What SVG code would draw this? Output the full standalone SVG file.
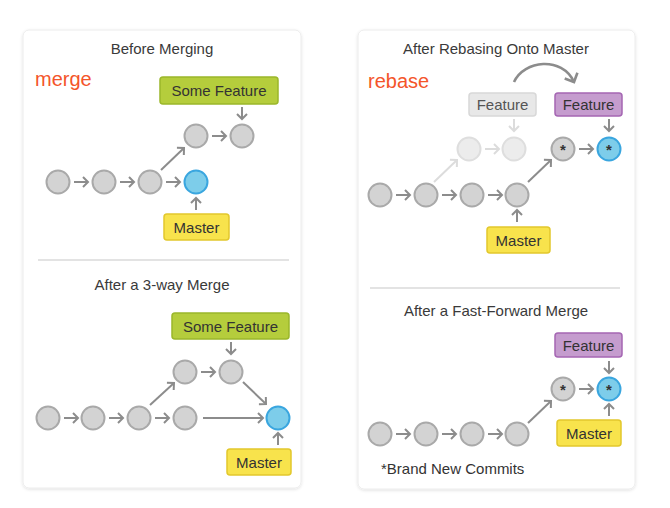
<svg xmlns="http://www.w3.org/2000/svg" width="670" height="508" viewBox="0 0 670 508">
<defs>
<filter id="sh" x="-5%" y="-5%" width="110%" height="110%">
<feDropShadow dx="0" dy="1" stdDeviation="1.5" flood-color="#000" flood-opacity="0.12"/>
</filter>
<marker id="ah" viewBox="-6 -6 8 12" refX="0" refY="0" markerWidth="8" markerHeight="12" markerUnits="userSpaceOnUse" orient="auto" overflow="visible">
<path d="M-5,-5 L0,0 L-5,5" fill="none" stroke="#8c8c8c" stroke-width="2"/>
</marker>
<marker id="ahf" viewBox="-6 -6 8 12" refX="0" refY="0" markerWidth="8" markerHeight="12" markerUnits="userSpaceOnUse" orient="auto" overflow="visible">
<path d="M-5,-5 L0,0 L-5,5" fill="none" stroke="#dcdcdc" stroke-width="2"/>
</marker>
<marker id="ahc" viewBox="-8 -8 10 16" refX="0" refY="0" markerWidth="10" markerHeight="16" markerUnits="userSpaceOnUse" orient="auto" overflow="visible">
<path d="M-7,-7 L0,0 L-7,7" fill="none" stroke="#8c8c8c" stroke-width="2.6"/>
</marker>
</defs>
<style>
text{font-family:"Liberation Sans",Arial,sans-serif;}
.card{fill:#fff;stroke:#ececec;stroke-width:1;}
.sep{stroke:#e3e3e3;stroke-width:2;}
.title{font-size:15px;fill:#3a3a3a;text-anchor:middle;}
.big{font-size:20px;fill:#f4552a;}
.lbl{font-size:15px;fill:#333;text-anchor:middle;}
.lblf{font-size:15px;fill:#555;text-anchor:middle;}
.note{font-size:15px;fill:#333;}
.c{fill:#d3d3d3;stroke:#a9a9a9;stroke-width:2;}
.cb{fill:#7dcdea;stroke:#3aa6df;stroke-width:2;}
.cf{fill:#ececec;stroke:#dedede;stroke-width:2;}
.star{font-size:15px;font-weight:bold;fill:#333;text-anchor:middle;}
.green{fill:#b5cd3c;stroke:#9bb72a;stroke-width:1.5;}
.yellow{fill:#f8e34c;stroke:#e2c82c;stroke-width:1.5;}
.purple{fill:#c59cce;stroke:#a566b3;stroke-width:1.5;}
.gray{fill:#e8e8e8;stroke:#d8d8d8;stroke-width:1.5;}
.a{stroke:#8c8c8c;stroke-width:2;fill:none;marker-end:url(#ah);}
.af{stroke:#dcdcdc;stroke-width:2;fill:none;marker-end:url(#ahf);}
.ac{stroke:#8c8c8c;stroke-width:2.6;fill:none;marker-end:url(#ahc);}
</style>

<g id="cards">
<rect class="card" x="23" y="30" width="278" height="458" rx="6" filter="url(#sh)"/>
<rect class="card" x="358" y="30" width="277" height="459" rx="6" filter="url(#sh)"/>
<line class="sep" x1="38" y1="260" x2="289" y2="260"/>
<line class="sep" x1="370" y1="288" x2="620" y2="288"/>
</g>

<g id="titles">
<text class="title" x="162" y="54">Before Merging</text>
<text class="big" x="35" y="86">merge</text>
<text class="title" x="162" y="290">After a 3-way Merge</text>
<text class="title" x="496" y="54">After Rebasing Onto Master</text>
<text class="big" x="368" y="88">rebase</text>
<text class="title" x="496" y="316">After a Fast-Forward Merge</text>
<text class="note" x="381" y="474">*Brand New Commits</text>
</g>

<g id="connectors">
<!-- before merging -->
<line class="a" x1="74" y1="182" x2="88" y2="182"/>
<line class="a" x1="120" y1="182" x2="134" y2="182"/>
<line class="a" x1="166" y1="182" x2="180" y2="182"/>
<line class="a" x1="212" y1="136" x2="226" y2="136"/>
<line class="a" x1="161" y1="170" x2="184" y2="148"/>
<line class="a" x1="242" y1="107" x2="242" y2="119"/>
<line class="a" x1="196" y1="210" x2="196" y2="198"/>
<!-- 3-way merge -->
<line class="a" x1="64" y1="418" x2="78" y2="418"/>
<line class="a" x1="109" y1="418" x2="123" y2="418"/>
<line class="a" x1="155" y1="418" x2="169" y2="418"/>
<line class="a" x1="203" y1="418" x2="263" y2="418"/>
<line class="a" x1="201" y1="372" x2="215" y2="372"/>
<line class="a" x1="150" y1="405" x2="174" y2="383"/>
<line class="a" x1="243" y1="382" x2="266" y2="404"/>
<line class="a" x1="231" y1="342" x2="231" y2="354"/>
<line class="a" x1="278" y1="445" x2="278" y2="433"/>
<!-- rebase -->
<path class="ac" d="M514,82 C524,60 562,56 574,82"/>
<line class="af" x1="485" y1="149" x2="499" y2="149"/>
<line class="af" x1="434" y1="182" x2="457" y2="160"/>
<line class="af" x1="514" y1="119" x2="514" y2="131"/>
<line class="a" x1="396" y1="195" x2="410" y2="195"/>
<line class="a" x1="442" y1="195" x2="456" y2="195"/>
<line class="a" x1="488" y1="195" x2="502" y2="195"/>
<line class="a" x1="528" y1="182" x2="551" y2="160"/>
<line class="a" x1="579" y1="149" x2="593" y2="149"/>
<line class="a" x1="609" y1="119" x2="609" y2="131"/>
<line class="a" x1="517" y1="222" x2="517" y2="210"/>
<!-- fast-forward -->
<line class="a" x1="396" y1="434" x2="410" y2="434"/>
<line class="a" x1="442" y1="434" x2="456" y2="434"/>
<line class="a" x1="488" y1="434" x2="502" y2="434"/>
<line class="a" x1="528" y1="423" x2="551" y2="401"/>
<line class="a" x1="579" y1="389" x2="593" y2="389"/>
<line class="a" x1="609" y1="361" x2="609" y2="373"/>
<line class="a" x1="609" y1="416" x2="609" y2="404"/>
</g>

<g id="before-merging">
<circle class="c" cx="58" cy="182" r="11.5"/>
<circle class="c" cx="104" cy="182" r="11.5"/>
<circle class="c" cx="150" cy="182" r="11.5"/>
<circle class="cb" cx="196" cy="182" r="11.5"/>
<circle class="c" cx="196" cy="136" r="11.5"/>
<circle class="c" cx="242" cy="136" r="11.5"/>
<g id="bm-feature"><rect class="green" x="160" y="77" width="118" height="27" rx="3"/><text class="lbl" x="219" y="96">Some Feature</text></g>
<g id="bm-master"><rect class="yellow" x="164" y="214" width="65" height="26" rx="3"/><text class="lbl" x="196.5" y="232.5">Master</text></g>
</g>

<g id="three-way-merge">
<circle class="c" cx="48" cy="418" r="11.5"/>
<circle class="c" cx="93" cy="418" r="11.5"/>
<circle class="c" cx="139" cy="418" r="11.5"/>
<circle class="c" cx="185" cy="418" r="11.5"/>
<circle class="cb" cx="278" cy="418" r="11.5"/>
<circle class="c" cx="185" cy="372" r="11.5"/>
<circle class="c" cx="231" cy="372" r="11.5"/>
<g id="tw-feature"><rect class="green" x="172" y="313" width="117" height="26" rx="3"/><text class="lbl" x="230.5" y="331.5">Some Feature</text></g>
<g id="tw-master"><rect class="yellow" x="227" y="449" width="64" height="26" rx="3"/><text class="lbl" x="259" y="467.5">Master</text></g>
</g>

<g id="rebase">
<circle class="cf" cx="469" cy="149" r="11.5"/>
<circle class="cf" cx="514" cy="149" r="11.5"/>
<circle class="c" cx="380" cy="195" r="11.5"/>
<circle class="c" cx="426" cy="195" r="11.5"/>
<circle class="c" cx="472" cy="195" r="11.5"/>
<circle class="c" cx="517" cy="195" r="11.5"/>
<circle class="c" cx="563" cy="149" r="11.5"/>
<text class="star" x="563" y="155">*</text>
<circle class="cb" cx="609" cy="149" r="11.5"/>
<text class="star" x="609" y="155">*</text>
<g id="rb-old-feature"><rect class="gray" x="469" y="93" width="67" height="23" rx="3"/><text class="lblf" x="502.5" y="110">Feature</text></g>
<g id="rb-feature"><rect class="purple" x="555" y="93" width="67" height="23" rx="3"/><text class="lbl" x="588.5" y="110">Feature</text></g>
<g id="rb-master"><rect class="yellow" x="487" y="227" width="63" height="26" rx="3"/><text class="lbl" x="518.5" y="245.5">Master</text></g>
</g>

<g id="fast-forward">
<circle class="c" cx="380" cy="434" r="11.5"/>
<circle class="c" cx="426" cy="434" r="11.5"/>
<circle class="c" cx="472" cy="434" r="11.5"/>
<circle class="c" cx="517" cy="434" r="11.5"/>
<circle class="c" cx="563" cy="389" r="11.5"/>
<text class="star" x="563" y="395">*</text>
<circle class="cb" cx="609" cy="389" r="11.5"/>
<text class="star" x="609" y="395">*</text>
<g id="ff-feature"><rect class="purple" x="555" y="333" width="67" height="24" rx="3"/><text class="lbl" x="588.5" y="350.5">Feature</text></g>
<g id="ff-master"><rect class="yellow" x="557" y="420" width="64" height="26" rx="3"/><text class="lbl" x="589" y="438.5">Master</text></g>
</g>
</svg>
